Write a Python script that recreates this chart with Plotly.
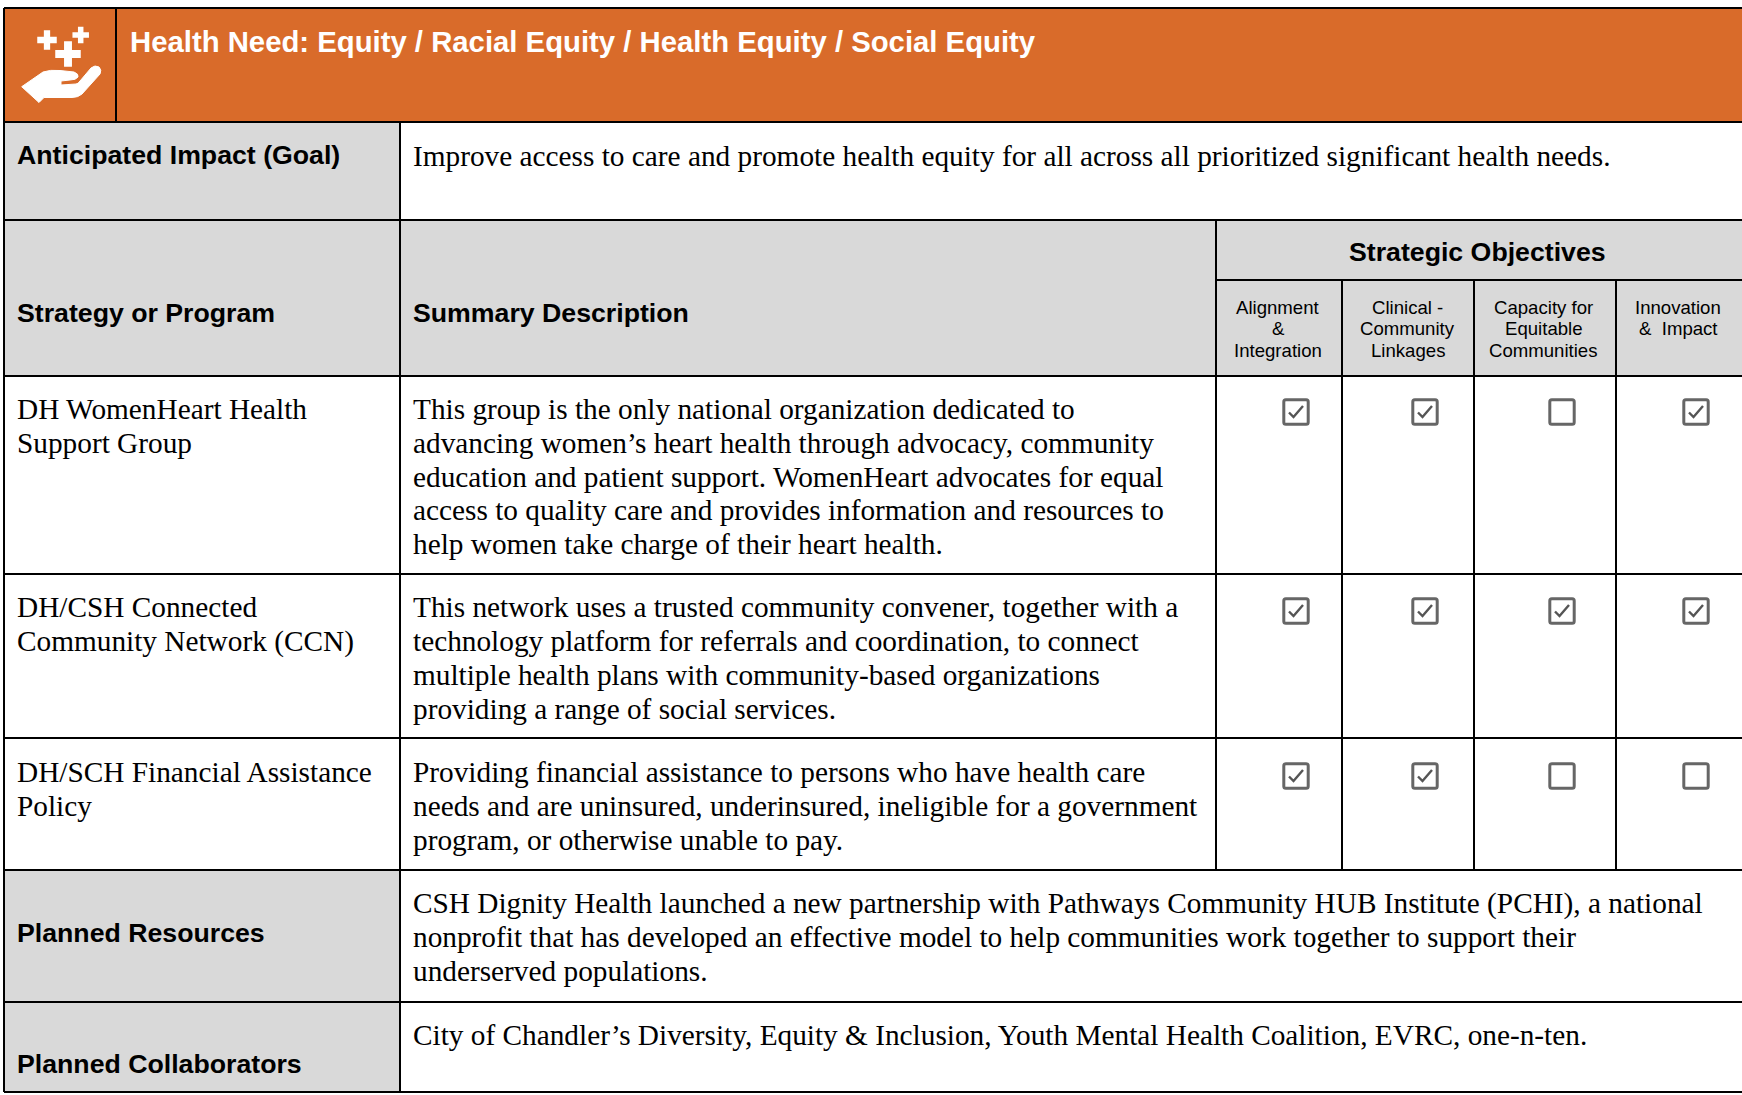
import plotly.graph_objects as go

TITLE = "Health Need: Equity / Racial Equity / Health Equity / Social Equity"
GOAL_LABEL = "Anticipated Impact (Goal)"
GOAL_TEXT = "Improve access to care and promote health equity for all across all prioritized significant health needs."
HEAD_STRATEGY = "Strategy or Program"
HEAD_SUMMARY = "Summary Description"
HEAD_OBJECTIVES = "Strategic Objectives"
OBJECTIVES = [["Alignment", "&", "Integration"],
              ["Clinical -", "Community", "Linkages"],
              ["Capacity for", "Equitable", "Communities"],
              ["Innovation", "&  Impact"]]
PROGRAMS = [["DH WomenHeart Health", "Support Group"],
            ["DH/CSH Connected", "Community Network (CCN)"],
            ["DH/SCH Financial Assistance", "Policy"]]
SUMMARIES = [["This group is the only national organization dedicated to",
              "advancing women’s heart health through advocacy, community",
              "education and patient support. WomenHeart advocates for equal",
              "access to quality care and provides information and resources to",
              "help women take charge of their heart health."],
             ["This network uses a trusted community convener, together with a",
              "technology platform for referrals and coordination, to connect",
              "multiple health plans with community-based organizations",
              "providing a range of social services."],
             ["Providing financial assistance to persons who have health care",
              "needs and are uninsured, underinsured, ineligible for a government",
              "program, or otherwise unable to pay."]]
CHECKS = [[1, 1, 0, 1], [1, 1, 1, 1], [1, 1, 0, 0]]
RES_LABEL = "Planned Resources"
RES_TEXT = ["CSH Dignity Health launched a new partnership with Pathways Community HUB Institute (PCHI), a national",
            "nonprofit that has developed an effective model to help communities work together to support their",
            "underserved populations."]
COL_LABEL = "Planned Collaborators"
COL_TEXT = "City of Chandler’s Diversity, Equity & Inclusion, Youth Mental Health Coalition, EVRC, one-n-ten."

ORANGE = "#D96B2A"
GRAY = "#D9D9D9"
SANS = "Liberation Sans"
SERIF = "Liberation Serif"
W, H = 1742, 1095
L, R = 4, 1742
X1, X2 = 400, 1216
OBJ_X = [1216, 1342, 1474, 1616, 1742]
Y_TOP, Y_HEAD, Y_GOAL, Y_OBJ, Y_SUB = 8, 122, 220, 280, 376
ROW_Y = [376, 574, 738, 870, 1002, 1092]
PITCH = 33.7
BODY = 29.3
TX0, TX1 = 16, 412

shapes, ann = [], []


def rect(x0, y0, x1, y1, c):
    shapes.append(dict(type="rect", x0=x0, y0=y0, x1=x1, y1=y1, fillcolor=c, line_width=0, layer="below"))


def line(x0, y0, x1, y1):
    shapes.append(dict(type="line", x0=x0, y0=y0, x1=x1, y1=y1, line=dict(color="black", width=2)))


def text(x, y, s, font=SERIF, size=BODY, bold=False, color="#000000", anchor="left"):
    if bold:
        s = f"<b>{s}</b>"
    ann.append(dict(x=x, y=y, text=s, showarrow=False, xanchor=anchor, yanchor="middle",
                    xref="x", yref="y", align=anchor, borderpad=0,
                    font=dict(family=font, size=size, color=color)))


rect(L, Y_TOP, R, Y_HEAD, ORANGE)
rect(L, Y_HEAD, X1, ROW_Y[0], GRAY)
rect(X1, Y_GOAL, R, ROW_Y[0], GRAY)
rect(L, ROW_Y[3], X1, ROW_Y[5], GRAY)

for y in (Y_TOP, Y_HEAD, Y_GOAL, *ROW_Y):
    line(L, y, R, y)
line(X1, Y_HEAD, X1, ROW_Y[5])
line(L, Y_TOP, L, ROW_Y[5])
line(116, Y_TOP, 116, Y_HEAD)
line(OBJ_X[0], Y_GOAL, OBJ_X[0], ROW_Y[3])
line(OBJ_X[0], Y_OBJ, R, Y_OBJ)
for x in OBJ_X[1:-1]:
    line(x, Y_OBJ, x, ROW_Y[3])

# Icon
def plus(cx, cy, a, t):
    shapes.append(dict(type="path", fillcolor="white", line=dict(color="white", width=1.5),
                       path=f"M{cx-a},{cy-t} H{cx-t} V{cy-a} H{cx+t} V{cy-t} H{cx+a} V{cy+t} H{cx+t} V{cy+a} H{cx-t} V{cy+t} H{cx-a} Z"))


plus(47, 40, 9, 2.4)
plus(80.7, 35, 7.5, 2)
plus(68, 54, 12, 3.2)
shapes.append(dict(type="path", fillcolor="white", line=dict(color="white", width=1),
                   path="M21.7,86.7 L43,72 Q50,69.5 60,70.5 L74,72 Q79,74 78,77 Q76,80 70,80 L61,81 L61,85 L76,84 "
                        "Q78,84 80,81 L91,68 Q95,64.5 99,67 Q102,70 100,74 L82,94 Q78,97.5 72,97.5 L44,97.5 L39,102.5 Z"))

text(128.5, 41, TITLE, SANS, 29.3, True, "white")
text(TX0, 155, GOAL_LABEL, SANS, 26.7, True)
text(TX1, 156.3, GOAL_TEXT)
text(TX0, 313, HEAD_STRATEGY, SANS, 26.7, True)
text(TX1, 313, HEAD_SUMMARY, SANS, 26.7, True)
text(1477.5, 252, HEAD_OBJECTIVES, SANS, 26.7, True, anchor="center")
for i, lines in enumerate(OBJECTIVES):
    cx = [1278, 1407.5, 1543.5, 1678][i]
    for j, s in enumerate(lines):
        text(cx, 307.2 + j * 21.6, s, SANS, 18.6, anchor="center")

ROW_FIRST = [409.2, 607.4, 772.3]
for r in range(3):
    for j, s in enumerate(PROGRAMS[r]):
        text(TX0, ROW_FIRST[r] + j * PITCH, s)
    for j, s in enumerate(SUMMARIES[r]):
        text(TX1, ROW_FIRST[r] + j * PITCH, s)

text(TX0, 933, RES_LABEL, SANS, 26.7, True)
for j, s in enumerate(RES_TEXT):
    text(TX1, 903.3 + j * PITCH, s)
text(TX0, 1064, COL_LABEL, SANS, 26.7, True)
text(TX1, 1035, COL_TEXT)

# Checkboxes
BOX_X = [1296, 1425, 1562, 1696]
BOX_Y = [412, 611, 776]
for r, row in enumerate(CHECKS):
    for c, v in enumerate(row):
        x, y = BOX_X[c], BOX_Y[r]
        a, q = 12.2, 2
        shapes.append(dict(type="path", line=dict(color="#666666", width=3),
                           path=f"M{x-a+q},{y-a} H{x+a-q} Q{x+a},{y-a} {x+a},{y-a+q} V{y+a-q} Q{x+a},{y+a} {x+a-q},{y+a} "
                                f"H{x-a+q} Q{x-a},{y+a} {x-a},{y+a-q} V{y-a+q} Q{x-a},{y-a} {x-a+q},{y-a} Z"))
        if v:
            shapes.append(dict(type="path", line=dict(color="#555555", width=2.4),
                               path=f"M{x-7},{y+0.5} L{x-2.5},{y+5} L{x+7},{y-6}"))

fig = go.Figure()
fig.add_trace(go.Scatter(x=[], y=[], hoverinfo="skip"))
fig.update_layout(width=W, height=H, margin=dict(l=0, r=0, t=0, b=0), paper_bgcolor="white", plot_bgcolor="white",
                  showlegend=False, shapes=shapes, annotations=ann,
                  xaxis=dict(range=[0, W], visible=False, fixedrange=True),
                  yaxis=dict(range=[H, 0], visible=False, fixedrange=True))
fig.write_html("out.html", config=dict(displayModeBar=False),
               post_script="document.body.style.margin='0';document.body.style.overflow='hidden';")
